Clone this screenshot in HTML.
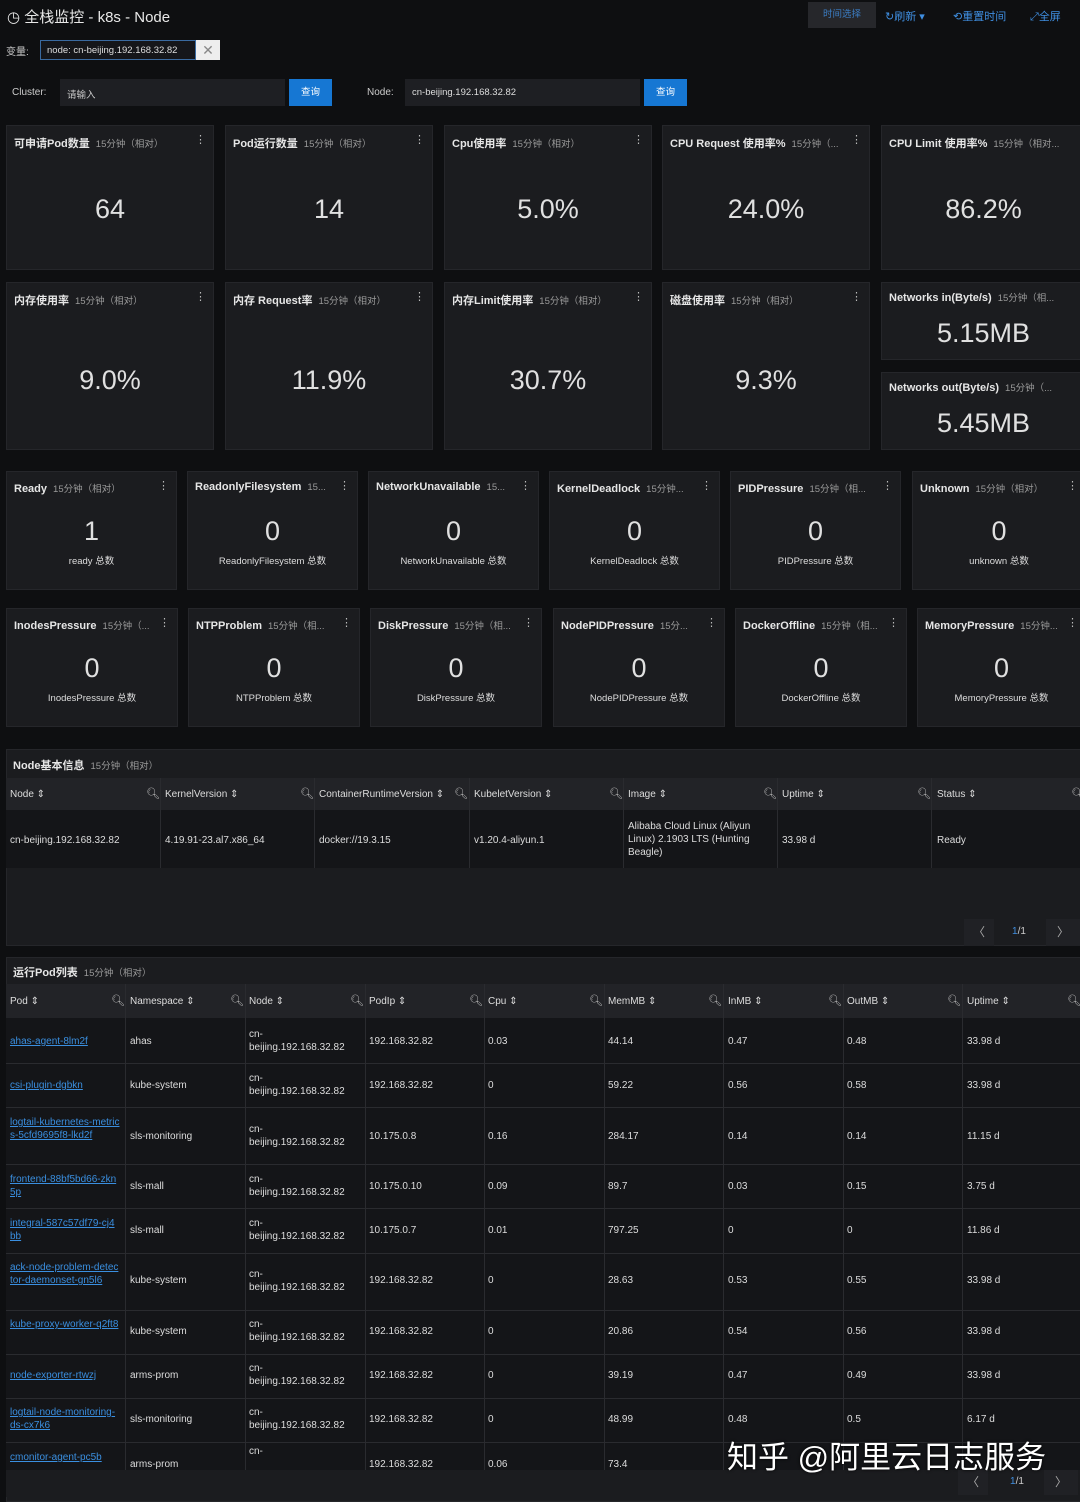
<!DOCTYPE html>
<html><head><meta charset="utf-8"><style>
*{box-sizing:border-box;margin:0;padding:0}
body{width:1080px;height:1497px;background:#0e0f11;font-family:"Liberation Sans","Noto Sans CJK SC",sans-serif;color:#d8d9da;position:relative;overflow:hidden}
.a{position:absolute}
.p{position:absolute;background:#1b1c1f;border:1px solid #25262a}
.t{position:absolute;left:7px;top:9px;font-size:11px;font-weight:bold;color:#e6e6e6;white-space:nowrap}
.t i{font-style:normal;font-weight:normal;font-size:9.5px;color:#9a9a9a;margin-left:6px}
.m{position:absolute;right:7px;top:7px;font-size:11px;color:#bbb}
.v{position:absolute;left:0;right:0;text-align:center;font-size:27px;color:#e0e0e0}
.s{position:absolute;left:0;right:0;text-align:center;font-size:9.5px;color:#ddd}
.th{position:absolute;background:#222327;font-size:9.5px;color:#ddd}
.c{position:absolute;font-size:10px;color:#ddd;line-height:13px}
.l{color:#3a8fe0;text-decoration:underline}
.hl{position:absolute;height:1px;background:#2a2b2f}
.vl{position:absolute;width:1px;background:#2a2b2f}
.q{position:absolute;font-size:11px;color:#bbb}
</style></head><body>
<div class="a" style="left:7px;top:6px;font-size:15px;color:#e8e8e8">◷ 全栈监控 - k8s - Node</div>
<div class="a" style="left:808px;top:2px;width:68px;height:26px;background:#26272b;color:#3b7dc4;font-size:9.5px;text-align:center;line-height:26px">时间选择</div>
<div class="a" style="left:885px;top:8px;font-size:11px;color:#3f8ee0">↻刷新 ▾</div>
<div class="a" style="left:953px;top:8px;font-size:11px;color:#3f8ee0">⟲重置时间</div>
<div class="a" style="left:1030px;top:8px;font-size:11px;color:#3f8ee0">⤢全屏</div>
<div class="a" style="left:6px;top:43px;font-size:10px;color:#ccc">变量:</div>
<div class="a" style="left:40px;top:40px;width:156px;height:20px;border:1px solid #3a6aa0;background:#15161a;font-size:9.5px;color:#ddd;padding:4px 6px;white-space:nowrap;overflow:hidden">node: cn-beijing.192.168.32.82</div>
<div class="a" style="left:196px;top:40px;width:24px;height:20px;background:#eee;color:#888;font-size:14px;text-align:center;line-height:20px">✕</div>
<div class="a" style="left:12px;top:87px;font-size:10px;color:#ccc">Cluster:</div>
<div class="a" style="left:60px;top:79px;width:225px;height:27px;background:#1e1f23;font-size:9.5px;color:#ccc;padding:8px 7px">请输入</div>
<div class="a" style="left:289px;top:79px;width:43px;height:27px;background:#1677d3;font-size:9.5px;color:#fff;text-align:center;line-height:27px">查询</div>
<div class="a" style="left:367px;top:87px;font-size:10px;color:#ccc">Node:</div>
<div class="a" style="left:405px;top:79px;width:235px;height:27px;background:#1e1f23;font-size:9.5px;color:#ddd;padding:8px 7px">cn-beijing.192.168.32.82</div>
<div class="a" style="left:644px;top:79px;width:43px;height:27px;background:#1677d3;font-size:9.5px;color:#fff;text-align:center;line-height:27px">查询</div>

<div class="p" style="left:6px;top:125px;width:208px;height:145px"><div class="t">可申请Pod数量<i>15分钟（相对）</i></div><div class="m">⋮</div><div class="v" style="top:68px">64</div></div>
<div class="p" style="left:225px;top:125px;width:208px;height:145px"><div class="t">Pod运行数量<i>15分钟（相对）</i></div><div class="m">⋮</div><div class="v" style="top:68px">14</div></div>
<div class="p" style="left:444px;top:125px;width:208px;height:145px"><div class="t">Cpu使用率<i>15分钟（相对）</i></div><div class="m">⋮</div><div class="v" style="top:68px">5.0%</div></div>
<div class="p" style="left:662px;top:125px;width:208px;height:145px"><div class="t">CPU Request 使用率%<i>15分钟（...</i></div><div class="m">⋮</div><div class="v" style="top:68px">24.0%</div></div>
<div class="p" style="left:881px;top:125px;width:205px;height:145px"><div class="t">CPU Limit 使用率%<i>15分钟（相对...</i></div><div class="v" style="top:68px">86.2%</div></div>
<div class="p" style="left:6px;top:282px;width:208px;height:168px"><div class="t">内存使用率<i>15分钟（相对）</i></div><div class="m">⋮</div><div class="v" style="top:82px">9.0%</div></div>
<div class="p" style="left:225px;top:282px;width:208px;height:168px"><div class="t">内存 Request率<i>15分钟（相对）</i></div><div class="m">⋮</div><div class="v" style="top:82px">11.9%</div></div>
<div class="p" style="left:444px;top:282px;width:208px;height:168px"><div class="t">内存Limit使用率<i>15分钟（相对）</i></div><div class="m">⋮</div><div class="v" style="top:82px">30.7%</div></div>
<div class="p" style="left:662px;top:282px;width:208px;height:168px"><div class="t">磁盘使用率<i>15分钟（相对）</i></div><div class="m">⋮</div><div class="v" style="top:82px">9.3%</div></div>
<div class="p" style="left:881px;top:282px;width:205px;height:78px"><div class="t" style="top:7px">Networks in(Byte/s)<i>15分钟（相...</i></div><div class="v" style="top:35px">5.15MB</div></div>
<div class="p" style="left:881px;top:372px;width:205px;height:78px"><div class="t" style="top:7px">Networks out(Byte/s)<i>15分钟（...</i></div><div class="v" style="top:35px">5.45MB</div></div>
<div class="p" style="left:6px;top:471px;width:171px;height:119px"><div class="t">Ready<i>15分钟（相对）</i></div><div class="m">⋮</div><div class="v" style="top:44px">1</div><div class="s" style="top:81px">ready 总数</div></div>
<div class="p" style="left:187px;top:471px;width:171px;height:119px"><div class="t">ReadonlyFilesystem<i>15...</i></div><div class="m">⋮</div><div class="v" style="top:44px">0</div><div class="s" style="top:81px">ReadonlyFilesystem 总数</div></div>
<div class="p" style="left:368px;top:471px;width:171px;height:119px"><div class="t">NetworkUnavailable<i>15...</i></div><div class="m">⋮</div><div class="v" style="top:44px">0</div><div class="s" style="top:81px">NetworkUnavailable 总数</div></div>
<div class="p" style="left:549px;top:471px;width:171px;height:119px"><div class="t">KernelDeadlock<i>15分钟...</i></div><div class="m">⋮</div><div class="v" style="top:44px">0</div><div class="s" style="top:81px">KernelDeadlock 总数</div></div>
<div class="p" style="left:730px;top:471px;width:171px;height:119px"><div class="t">PIDPressure<i>15分钟（相...</i></div><div class="m">⋮</div><div class="v" style="top:44px">0</div><div class="s" style="top:81px">PIDPressure 总数</div></div>
<div class="p" style="left:912px;top:471px;width:174px;height:119px"><div class="t">Unknown<i>15分钟（相对）</i></div><div class="m">⋮</div><div class="v" style="top:44px">0</div><div class="s" style="top:81px">unknown 总数</div></div>
<div class="p" style="left:6px;top:608px;width:172px;height:119px"><div class="t">InodesPressure<i>15分钟（...</i></div><div class="m">⋮</div><div class="v" style="top:44px">0</div><div class="s" style="top:81px">InodesPressure 总数</div></div>
<div class="p" style="left:188px;top:608px;width:172px;height:119px"><div class="t">NTPProblem<i>15分钟（相...</i></div><div class="m">⋮</div><div class="v" style="top:44px">0</div><div class="s" style="top:81px">NTPProblem 总数</div></div>
<div class="p" style="left:370px;top:608px;width:172px;height:119px"><div class="t">DiskPressure<i>15分钟（相...</i></div><div class="m">⋮</div><div class="v" style="top:44px">0</div><div class="s" style="top:81px">DiskPressure 总数</div></div>
<div class="p" style="left:553px;top:608px;width:172px;height:119px"><div class="t">NodePIDPressure<i>15分...</i></div><div class="m">⋮</div><div class="v" style="top:44px">0</div><div class="s" style="top:81px">NodePIDPressure 总数</div></div>
<div class="p" style="left:735px;top:608px;width:172px;height:119px"><div class="t">DockerOffline<i>15分钟（相...</i></div><div class="m">⋮</div><div class="v" style="top:44px">0</div><div class="s" style="top:81px">DockerOffline 总数</div></div>
<div class="p" style="left:917px;top:608px;width:169px;height:119px"><div class="t">MemoryPressure<i>15分钟...</i></div><div class="m">⋮</div><div class="v" style="top:44px">0</div><div class="s" style="top:81px">MemoryPressure 总数</div></div>

<div class="p" style="left:6px;top:749px;width:1080px;height:197px"></div>
<div class="t" style="left:13px;top:757px">Node基本信息<i>15分钟（相对）</i></div>
<div class="th" style="left:6px;top:778px;width:1074px;height:32px"></div>
<div class="a" style="left:6px;top:810px;width:1074px;height:58px;background:#141518"></div>
<div class="c" style="left:10px;top:788px">Node ⇕</div><div class="q" style="left:146px;top:787px">🔍︎</div>
<div class="c" style="left:165px;top:788px">KernelVersion ⇕</div><div class="q" style="left:300px;top:787px">🔍︎</div>
<div class="c" style="left:319px;top:788px">ContainerRuntimeVersion ⇕</div><div class="q" style="left:454px;top:787px">🔍︎</div>
<div class="c" style="left:474px;top:788px">KubeletVersion ⇕</div><div class="q" style="left:609px;top:787px">🔍︎</div>
<div class="c" style="left:628px;top:788px">Image ⇕</div><div class="q" style="left:763px;top:787px">🔍︎</div>
<div class="c" style="left:782px;top:788px">Uptime ⇕</div><div class="q" style="left:917px;top:787px">🔍︎</div>
<div class="c" style="left:937px;top:788px">Status ⇕</div><div class="q" style="left:1071px;top:787px">🔍︎</div>
<div class="vl" style="left:160px;top:778px;height:90px"></div><div class="vl" style="left:314px;top:778px;height:90px"></div><div class="vl" style="left:469px;top:778px;height:90px"></div><div class="vl" style="left:623px;top:778px;height:90px"></div><div class="vl" style="left:777px;top:778px;height:90px"></div><div class="vl" style="left:931px;top:778px;height:90px"></div>
<div class="c" style="left:10px;top:834px">cn-beijing.192.168.32.82</div>
<div class="c" style="left:165px;top:834px">4.19.91-23.al7.x86_64</div>
<div class="c" style="left:319px;top:834px">docker://19.3.15</div>
<div class="c" style="left:474px;top:834px">v1.20.4-aliyun.1</div>
<div class="c" style="left:628px;top:820px;width:138px">Alibaba Cloud Linux (Aliyun Linux) 2.1903 LTS (Hunting Beagle)</div>
<div class="c" style="left:782px;top:834px">33.98 d</div>
<div class="c" style="left:937px;top:834px">Ready</div>
<div class="a" style="left:964px;top:919px;width:30px;height:27px;background:#202125;color:#aaa;text-align:center;line-height:27px;font-size:12px">〈</div>
<div class="a" style="left:1012px;top:926px;font-size:10px;color:#ccc"><span style="color:#3f8ee0">1</span>/1</div>
<div class="a" style="left:1046px;top:919px;width:34px;height:27px;background:#202125;color:#aaa;text-align:center;line-height:27px;font-size:12px">〉</div>

<div class="p" style="left:6px;top:957px;width:1080px;height:545px"></div>
<div class="t" style="left:13px;top:964px">运行Pod列表<i>15分钟（相对）</i></div>
<div class="th" style="left:6px;top:984px;width:1074px;height:34px"></div>
<div class="a" style="left:6px;top:1018px;width:1074px;height:452px;background:#141518"></div>
<div class="c" style="left:10px;top:995px">Pod ⇕</div><div class="q" style="left:111px;top:994px">🔍︎</div>
<div class="c" style="left:130px;top:995px">Namespace ⇕</div><div class="q" style="left:230px;top:994px">🔍︎</div>
<div class="c" style="left:249px;top:995px">Node ⇕</div><div class="q" style="left:350px;top:994px">🔍︎</div>
<div class="c" style="left:369px;top:995px">PodIp ⇕</div><div class="q" style="left:469px;top:994px">🔍︎</div>
<div class="c" style="left:488px;top:995px">Cpu ⇕</div><div class="q" style="left:589px;top:994px">🔍︎</div>
<div class="c" style="left:608px;top:995px">MemMB ⇕</div><div class="q" style="left:708px;top:994px">🔍︎</div>
<div class="c" style="left:728px;top:995px">InMB ⇕</div><div class="q" style="left:828px;top:994px">🔍︎</div>
<div class="c" style="left:847px;top:995px">OutMB ⇕</div><div class="q" style="left:947px;top:994px">🔍︎</div>
<div class="c" style="left:967px;top:995px">Uptime ⇕</div><div class="q" style="left:1067px;top:994px">🔍︎</div>
<div class="vl" style="left:125px;top:984px;height:486px"></div><div class="vl" style="left:245px;top:984px;height:486px"></div><div class="vl" style="left:365px;top:984px;height:486px"></div><div class="vl" style="left:484px;top:984px;height:486px"></div><div class="vl" style="left:604px;top:984px;height:486px"></div><div class="vl" style="left:723px;top:984px;height:486px"></div><div class="vl" style="left:843px;top:984px;height:486px"></div><div class="vl" style="left:962px;top:984px;height:486px"></div>
<div class="hl" style="left:6px;top:1063px;width:1074px"></div><div class="hl" style="left:6px;top:1107px;width:1074px"></div><div class="hl" style="left:6px;top:1164px;width:1074px"></div><div class="hl" style="left:6px;top:1208px;width:1074px"></div><div class="hl" style="left:6px;top:1253px;width:1074px"></div><div class="hl" style="left:6px;top:1310px;width:1074px"></div><div class="hl" style="left:6px;top:1354px;width:1074px"></div><div class="hl" style="left:6px;top:1398px;width:1074px"></div><div class="hl" style="left:6px;top:1442px;width:1074px"></div>

<div class="c l" style="left:10px;top:1035px">ahas-agent-8lm2f</div><div class="c" style="left:130px;top:1035px">ahas</div><div class="c" style="left:249px;top:1028px">cn-<br>beijing.192.168.32.82</div><div class="c" style="left:369px;top:1035px">192.168.32.82</div><div class="c" style="left:488px;top:1035px">0.03</div><div class="c" style="left:608px;top:1035px">44.14</div><div class="c" style="left:728px;top:1035px">0.47</div><div class="c" style="left:847px;top:1035px">0.48</div><div class="c" style="left:967px;top:1035px">33.98 d</div>
<div class="c l" style="left:10px;top:1079px">csi-plugin-dgbkn</div><div class="c" style="left:130px;top:1079px">kube-system</div><div class="c" style="left:249px;top:1072px">cn-<br>beijing.192.168.32.82</div><div class="c" style="left:369px;top:1079px">192.168.32.82</div><div class="c" style="left:488px;top:1079px">0</div><div class="c" style="left:608px;top:1079px">59.22</div><div class="c" style="left:728px;top:1079px">0.56</div><div class="c" style="left:847px;top:1079px">0.58</div><div class="c" style="left:967px;top:1079px">33.98 d</div>
<div class="c l" style="left:10px;top:1116px;width:110px;word-break:break-all">logtail-kubernetes-metrics-5cfd9695f8-lkd2f</div><div class="c" style="left:130px;top:1130px">sls-monitoring</div><div class="c" style="left:249px;top:1123px">cn-<br>beijing.192.168.32.82</div><div class="c" style="left:369px;top:1130px">10.175.0.8</div><div class="c" style="left:488px;top:1130px">0.16</div><div class="c" style="left:608px;top:1130px">284.17</div><div class="c" style="left:728px;top:1130px">0.14</div><div class="c" style="left:847px;top:1130px">0.14</div><div class="c" style="left:967px;top:1130px">11.15 d</div>
<div class="c l" style="left:10px;top:1173px;width:110px;word-break:break-all">frontend-88bf5bd66-zkn5p</div><div class="c" style="left:130px;top:1180px">sls-mall</div><div class="c" style="left:249px;top:1173px">cn-<br>beijing.192.168.32.82</div><div class="c" style="left:369px;top:1180px">10.175.0.10</div><div class="c" style="left:488px;top:1180px">0.09</div><div class="c" style="left:608px;top:1180px">89.7</div><div class="c" style="left:728px;top:1180px">0.03</div><div class="c" style="left:847px;top:1180px">0.15</div><div class="c" style="left:967px;top:1180px">3.75 d</div>
<div class="c l" style="left:10px;top:1217px;width:110px;word-break:break-all">integral-587c57df79-cj4bb</div><div class="c" style="left:130px;top:1224px">sls-mall</div><div class="c" style="left:249px;top:1217px">cn-<br>beijing.192.168.32.82</div><div class="c" style="left:369px;top:1224px">10.175.0.7</div><div class="c" style="left:488px;top:1224px">0.01</div><div class="c" style="left:608px;top:1224px">797.25</div><div class="c" style="left:728px;top:1224px">0</div><div class="c" style="left:847px;top:1224px">0</div><div class="c" style="left:967px;top:1224px">11.86 d</div>
<div class="c l" style="left:10px;top:1261px;width:110px;word-break:break-all">ack-node-problem-detector-daemonset-gn5l6</div><div class="c" style="left:130px;top:1274px">kube-system</div><div class="c" style="left:249px;top:1268px">cn-<br>beijing.192.168.32.82</div><div class="c" style="left:369px;top:1274px">192.168.32.82</div><div class="c" style="left:488px;top:1274px">0</div><div class="c" style="left:608px;top:1274px">28.63</div><div class="c" style="left:728px;top:1274px">0.53</div><div class="c" style="left:847px;top:1274px">0.55</div><div class="c" style="left:967px;top:1274px">33.98 d</div>
<div class="c l" style="left:10px;top:1318px;width:110px;word-break:break-all">kube-proxy-worker-q2ft8</div><div class="c" style="left:130px;top:1325px">kube-system</div><div class="c" style="left:249px;top:1318px">cn-<br>beijing.192.168.32.82</div><div class="c" style="left:369px;top:1325px">192.168.32.82</div><div class="c" style="left:488px;top:1325px">0</div><div class="c" style="left:608px;top:1325px">20.86</div><div class="c" style="left:728px;top:1325px">0.54</div><div class="c" style="left:847px;top:1325px">0.56</div><div class="c" style="left:967px;top:1325px">33.98 d</div>
<div class="c l" style="left:10px;top:1369px">node-exporter-rtwzj</div><div class="c" style="left:130px;top:1369px">arms-prom</div><div class="c" style="left:249px;top:1362px">cn-<br>beijing.192.168.32.82</div><div class="c" style="left:369px;top:1369px">192.168.32.82</div><div class="c" style="left:488px;top:1369px">0</div><div class="c" style="left:608px;top:1369px">39.19</div><div class="c" style="left:728px;top:1369px">0.47</div><div class="c" style="left:847px;top:1369px">0.49</div><div class="c" style="left:967px;top:1369px">33.98 d</div>
<div class="c l" style="left:10px;top:1406px;width:110px;word-break:break-all">logtail-node-monitoring-ds-cx7k6</div><div class="c" style="left:130px;top:1413px">sls-monitoring</div><div class="c" style="left:249px;top:1406px">cn-<br>beijing.192.168.32.82</div><div class="c" style="left:369px;top:1413px">192.168.32.82</div><div class="c" style="left:488px;top:1413px">0</div><div class="c" style="left:608px;top:1413px">48.99</div><div class="c" style="left:728px;top:1413px">0.48</div><div class="c" style="left:847px;top:1413px">0.5</div><div class="c" style="left:967px;top:1413px">6.17 d</div>
<div class="c l" style="left:10px;top:1451px">cmonitor-agent-pc5b</div><div class="c" style="left:130px;top:1458px">arms-prom</div><div class="c" style="left:249px;top:1445px">cn-</div><div class="c" style="left:369px;top:1458px">192.168.32.82</div><div class="c" style="left:488px;top:1458px">0.06</div><div class="c" style="left:608px;top:1458px">73.4</div>
<div class="a" style="left:6px;top:1470px;width:1074px;height:27px;background:#1b1c1f"></div>
<div class="a" style="left:958px;top:1470px;width:30px;height:25px;background:#202125;color:#aaa;text-align:center;line-height:25px;font-size:12px">〈</div>
<div class="a" style="left:1010px;top:1476px;font-size:10px;color:#ccc"><span style="color:#3f8ee0">1</span>/1</div>
<div class="a" style="left:1044px;top:1470px;width:34px;height:25px;background:#202125;color:#aaa;text-align:center;line-height:25px;font-size:12px">〉</div>
<div class="a" style="left:727px;top:1432px;font-size:31px;color:#fff;white-space:nowrap;text-shadow:0 0 3px #000">知乎 @阿里云日志服务</div>
</body></html>
